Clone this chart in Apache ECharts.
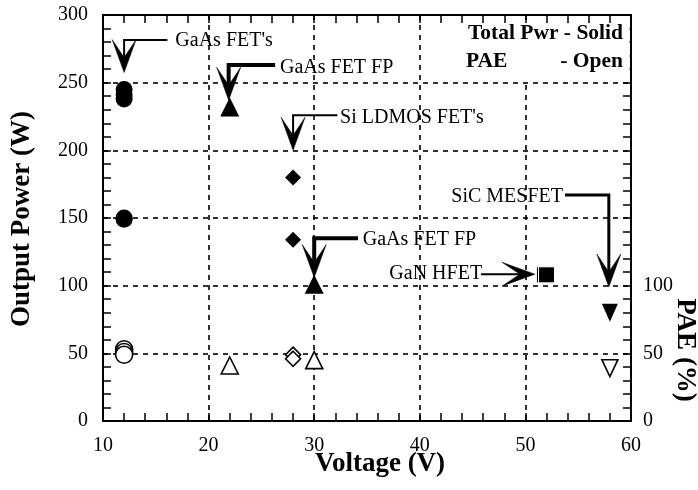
<!DOCTYPE html>
<html><head><meta charset="utf-8">
<script src="https://cdn.jsdelivr.net/npm/echarts@6/dist/echarts.min.js"></script>
<style>html,body{margin:0;padding:0;background:#fff}#c{width:698px;height:490px}</style>
</head><body><div id="c"></div>
<script>
// ---- tick labels ----
const xTicks = [10, 20, 30, 40, 50, 60];
const yTicks = [0, 50, 100, 150, 200, 250, 300];
const paeTickLabels = [0, 50, 100];

// ---- data: [voltage, value] ----
const gaasFetPower = [[12, 245], [12, 241], [12, 238], [12, 150], [12, 149]];
const gaasFetPae   = [[12, 53], [12, 51], [12, 49]];
const gaasFpPower  = [[22, 232], [30, 101]];
const gaasFpPae    = [[22, 41], [30, 45]];
const ldmosPower   = [[28, 180], [28, 134]];
const ldmosPae     = [[28, 49], [28, 46]];
const ganPower     = [[51.8, 108], [52, 108]];
const sicPower     = [[58, 80]];
const sicPae       = [[58, 39]];

// ---- annotations (data coordinates) ----
const annotationLabels = ["GaAs FET's", "GaAs FET FP", "Si LDMOS FET's", "GaAs FET FP", "GaN HFET", "SiC MESFET"];
const annotationText = [[16.85, 281], [26.76, 261], [32.45, 224], [34.6, 134], [45.9, 109], [53.56, 166]];
const annotationPaths = [
  [[16.1, 281.5], [12, 281.5], [12, 257.5]],
  [[26.3, 263], [21.9, 263], [21.9, 237]],
  [[32.2, 226], [28, 226], [28, 200]],
  [[34.15, 135], [30, 135], [30, 106]],
  [[45.8, 108.5], [50.9, 108.5]],
  [[53.75, 167], [57.9, 167], [57.9, 99]]
];

const FONT = '"Liberation Serif", "Times New Roman", serif';
const annWidths = [2, 4, 2, 4, 2, 3];
const annAlign = ['left', 'left', 'left', 'left', 'right', 'right'];

function renderAnnotation(params, api) {
  const i = params.dataIndex;
  const pts = annotationPaths[i].map(p => api.coord(p));
  const tip = pts[pts.length - 1], prev = pts[pts.length - 2];
  let dx = tip[0] - prev[0], dy = tip[1] - prev[1];
  const len = Math.hypot(dx, dy); dx /= len; dy /= len;
  const nx = -dy, ny = dx;
  const L = 33, W = 12, N = 15;
  const barbA = [tip[0] - dx * L + nx * W, tip[1] - dy * L + ny * W];
  const barbB = [tip[0] - dx * L - nx * W, tip[1] - dy * L - ny * W];
  const notch = [tip[0] - dx * N, tip[1] - dy * N];
  const linePts = pts.slice(0, -1).concat([notch]);
  const tp = api.coord(annotationText[i]);
  return {
    type: 'group',
    children: [
      { type: 'polyline', shape: { points: linePts }, style: { stroke: '#000', lineWidth: annWidths[i], fill: 'none' } },
      { type: 'polygon', shape: { points: [tip, barbA, notch, barbB] }, style: { fill: '#000', stroke: '#000', lineWidth: 0.5 } },
      { type: 'text', x: tp[0], y: tp[1], style: { text: annotationLabels[i], fontSize: 20, fontFamily: FONT, fill: '#000', align: annAlign[i], verticalAlign: 'middle' } }
    ]
  };
}

function scatter(data, symbol, filled, size, yAxisIndex, rotate, extra) {
  return Object.assign({
    type: 'scatter', data: data, symbol: symbol, symbolSize: size, symbolRotate: rotate || 0,
    xAxisIndex: 0, yAxisIndex: yAxisIndex, silent: true, z: 3,
    itemStyle: filled ? { color: '#000', borderColor: '#000', borderWidth: 0, opacity: 1 }
                      : { color: '#fff', borderColor: '#000', borderWidth: 1.6, opacity: 1 }
  }, extra || {});
}

const axisLabelStyle = { fontFamily: FONT, fontSize: 20, color: '#000' };
const lineStyle = { color: '#000', width: 2 };
const tickStyle = { color: '#000', width: 1.5 };
const gridLine = { show: true, lineStyle: { color: '#000', width: 1.6, type: [5, 5] } };
const xMin = xTicks[0], xMax = xTicks[xTicks.length - 1];
const yMin = yTicks[0], yMax = yTicks[yTicks.length - 1];

function tickAxis(position, min, max, interval) {
  return { type: 'value', position: position, min: min, max: max, interval: interval,
    axisLine: { show: true, onZero: false, lineStyle: lineStyle },
    axisTick: { show: true, inside: true, length: 8, lineStyle: tickStyle },
    axisLabel: { show: false }, splitLine: { show: false } };
}

const chart = echarts.init(document.getElementById('c'), null, { renderer: 'canvas' });
chart.setOption({
  animation: false,
  backgroundColor: '#fff',
  grid: { left: 103, right: 67, top: 15, bottom: 69 },
  xAxis: [
    { type: 'value', position: 'bottom', min: xMin, max: xMax, interval: 10,
      axisLine: { show: true, onZero: false, lineStyle: lineStyle },
      axisTick: { show: false },
      axisLabel: Object.assign({ margin: 15, formatter: v => xTicks.includes(v) ? String(v) : '' }, axisLabelStyle),
      splitLine: gridLine },
    tickAxis('top', xMin, xMax, 2),
    tickAxis('bottom', xMin, xMax, 2)
  ],
  yAxis: [
    { type: 'value', position: 'left', min: yMin, max: yMax, interval: 50,
      axisLine: { show: true, onZero: false, lineStyle: lineStyle },
      axisTick: { show: false },
      axisLabel: Object.assign({ margin: 15, formatter: v => yTicks.includes(v) ? String(v) : '' }, axisLabelStyle),
      splitLine: gridLine },
    { type: 'value', position: 'right', min: yMin, max: yMax, interval: 50,
      axisLine: { show: true, onZero: false, lineStyle: lineStyle },
      axisTick: { show: false },
      axisLabel: Object.assign({ margin: 12, formatter: v => paeTickLabels.includes(v) ? String(v) : '' }, axisLabelStyle),
      splitLine: { show: false } },
    tickAxis('left', yMin, yMax, 10),
    tickAxis('right', yMin, yMax, 10)
  ],
  series: [
    scatter(gaasFetPower, 'circle', true, 17, 0),
    scatter(gaasFetPae, 'circle', false, 17, 1),
    scatter(gaasFpPower, 'triangle', true, [19, 19], 0),
    scatter(gaasFpPae, 'triangle', false, [17, 17], 1),
    scatter(ldmosPower, 'diamond', true, [16, 16], 0),
    scatter(ldmosPae, 'diamond', false, [15, 15], 1),
    scatter(ganPower, 'rect', true, 16, 0, 0, { itemStyle: { color: '#000', borderColor: '#fff', borderWidth: 1, opacity: 1 } }),
    scatter(sicPower, 'triangle', true, [16, 18], 0, 180),
    scatter(sicPae, 'triangle', false, [16, 17], 1, 180),
    { type: 'custom', coordinateSystem: 'cartesian2d', xAxisIndex: 0, yAxisIndex: 0, silent: true, clip: false, z: 5,
      data: annotationPaths.map(p => p[p.length - 1]),
      encode: { x: 0, y: 1 },
      renderItem: renderAnnotation }
  ],
  graphic: [
    { type: 'rect', z: 50, shape: { x: 462, y: 24, width: 167.5, height: 56 }, style: { fill: '#fff' } },
    { type: 'text', z: 51, x: 623, y: 33, style: { text: 'Total Pwr - Solid', fontSize: 21.5, fontWeight: 'bold', fontFamily: FONT, fill: '#000', align: 'right', verticalAlign: 'middle' } },
    { type: 'text', z: 51, x: 466, y: 61, style: { text: 'PAE', fontSize: 21.5, fontWeight: 'bold', fontFamily: FONT, fill: '#000', align: 'left', verticalAlign: 'middle' } },
    { type: 'text', z: 51, x: 623, y: 61, style: { text: '- Open', fontSize: 21.5, fontWeight: 'bold', fontFamily: FONT, fill: '#000', align: 'right', verticalAlign: 'middle' } },
    { type: 'text', z: 51, x: 22, y: 219, rotation: Math.PI / 2, style: { text: 'Output Power (W)', fontSize: 27, fontWeight: 'bold', fontFamily: FONT, fill: '#000', align: 'center', verticalAlign: 'middle' } },
    { type: 'text', z: 51, x: 685, y: 350, rotation: -Math.PI / 2, style: { text: 'PAE (%)', fontSize: 27, fontWeight: 'bold', fontFamily: FONT, fill: '#000', align: 'center', verticalAlign: 'middle' } },
    { type: 'text', z: 51, x: 380, y: 464, style: { text: 'Voltage (V)', fontSize: 27, fontWeight: 'bold', fontFamily: FONT, fill: '#000', align: 'center', verticalAlign: 'middle' } }
  ]
});
</script>
</body></html>
